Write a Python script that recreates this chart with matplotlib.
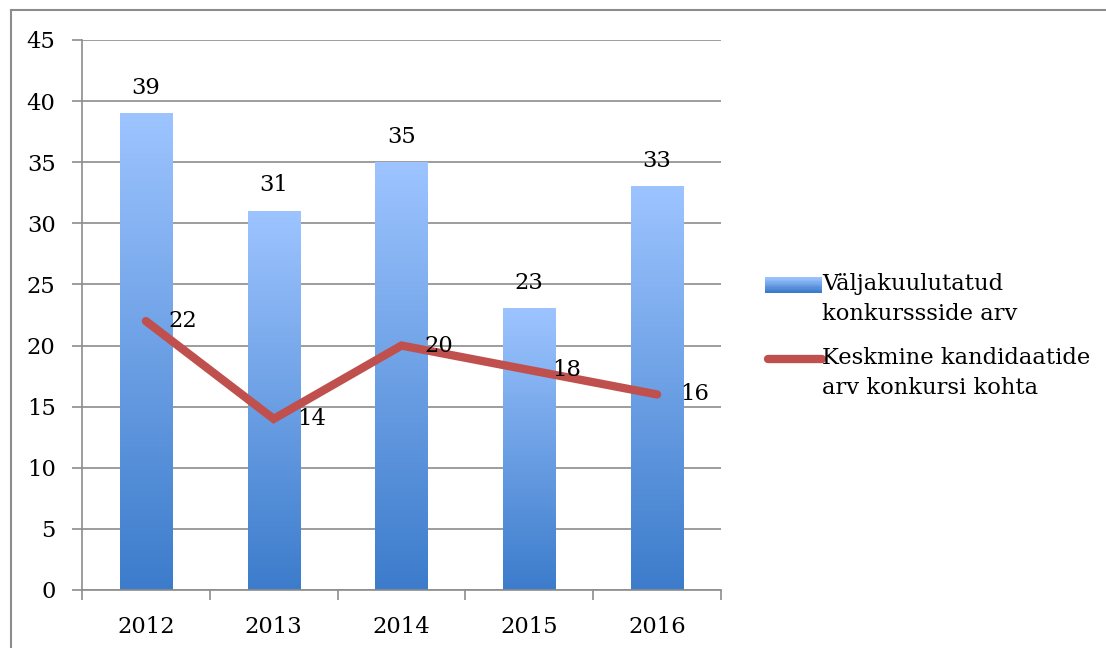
import numpy as np
import matplotlib
matplotlib.use('Agg')
import matplotlib.pyplot as plt
from matplotlib.patches import Rectangle
from matplotlib.lines import Line2D
from matplotlib.legend_handler import HandlerBase
from matplotlib.colors import LinearSegmentedColormap

years = ['2012', '2013', '2014', '2015', '2016']
konkursid = [39, 31, 35, 23, 33]
kandidaadid = [22, 14, 20, 18, 16]
bar_label = 'Väljakuulutatud\nkonkurssside arv'
line_label = 'Keskmine kandidaatide\narv konkursi kohta'

plt.rcParams['font.family'] = ['DejaVu Serif']
FS = 16.3
GRID = '#8c8c8c'
RED = '#c0504d'
blues = LinearSegmentedColormap.from_list('b', ['#3c7ccb', '#9dc4ff'])
SHIFT = 10.5  # legend handles sit on the first text line


class GradientHandler(HandlerBase):
    def create_artists(self, legend, orig, xd, yd, w, h, fs, trans):
        out = []
        n = 12
        y0 = -yd + SHIFT
        for i in range(n):
            r = Rectangle((-xd, y0 + h * i / n), w, h / n + 0.3,
                          facecolor=blues(i / (n - 1)), edgecolor='none',
                          transform=trans)
            out.append(r)
        return out


class LineHandler(HandlerBase):
    def create_artists(self, legend, orig, xd, yd, w, h, fs, trans):
        y = -yd + h / 2 + SHIFT
        ln = Line2D([-xd + 2, -xd + w], [y, y], color=RED, lw=6,
                    solid_capstyle='round', transform=trans)
        return [ln]


fig = plt.figure(figsize=(11.06, 6.48), dpi=100)
ax = fig.add_axes([82 / 1106, 1 - 590 / 648, (721 - 82) / 1106, 550 / 648])

x = np.arange(len(years))
width = 0.41
grad = np.linspace(1, 0, 256).reshape(-1, 1)
for xi, v in zip(x, konkursid):
    ax.imshow(grad, extent=[xi - width / 2, xi + width / 2, 0, v],
              aspect='auto', cmap=blues, zorder=2, interpolation='bilinear')
    ax.text(xi, v + 2.1, str(v), ha='center', va='center', fontsize=FS)

line, = ax.plot(x, kandidaadid, color=RED, lw=6, solid_capstyle='round',
                solid_joinstyle='miter', zorder=3)
for xi, v in zip(x, kandidaadid):
    ax.text(xi + 0.18, v, str(v), ha='left', va='center', fontsize=FS, zorder=4)

ax.set_xlim(-0.5, len(years) - 0.5)
ax.set_ylim(0, 45)
ax.set_yticks(range(0, 46, 5))
ax.set_xticks(x)
ax.set_xticklabels(years)
ax.set_xticks(np.arange(-0.5, len(years), 1), minor=True)
ax.yaxis.grid(True, color=GRID, lw=1.2, zorder=0)
ax.set_axisbelow(True)
for s in ['top', 'right']:
    ax.spines[s].set_visible(False)
for s in ['left', 'bottom']:
    ax.spines[s].set_color(GRID)
    ax.spines[s].set_linewidth(1.2)
ax.tick_params(axis='y', length=7, color=GRID, width=1.2, labelsize=FS, pad=12)
ax.tick_params(axis='x', which='major', length=0, labelsize=FS, pad=19)
ax.tick_params(axis='x', which='minor', length=7, color=GRID, width=1.2)

handles = [Rectangle((0, 0), 1, 1), line]
leg = fig.legend(handles, [bar_label, line_label], loc='center left',
                 bbox_to_anchor=(745 / 1106, 1 - 336 / 648), frameon=False,
                 fontsize=FS, handlelength=2.5, handletextpad=0.0,
                 labelspacing=1.0,
                 handler_map={Rectangle: GradientHandler(),
                              Line2D: LineHandler()})
for t in leg.get_texts():
    t.set_linespacing(1.45)

# outer frame around the chart
fig.add_artist(Line2D([11 / 1106, 11 / 1106], [0, 1 - 10 / 648], color=GRID,
                      lw=1.5, transform=fig.transFigure))
fig.add_artist(Line2D([11 / 1106, 1], [1 - 10 / 648, 1 - 10 / 648], color=GRID,
                      lw=1.5, transform=fig.transFigure))

fig.savefig('out.png', dpi=100)
